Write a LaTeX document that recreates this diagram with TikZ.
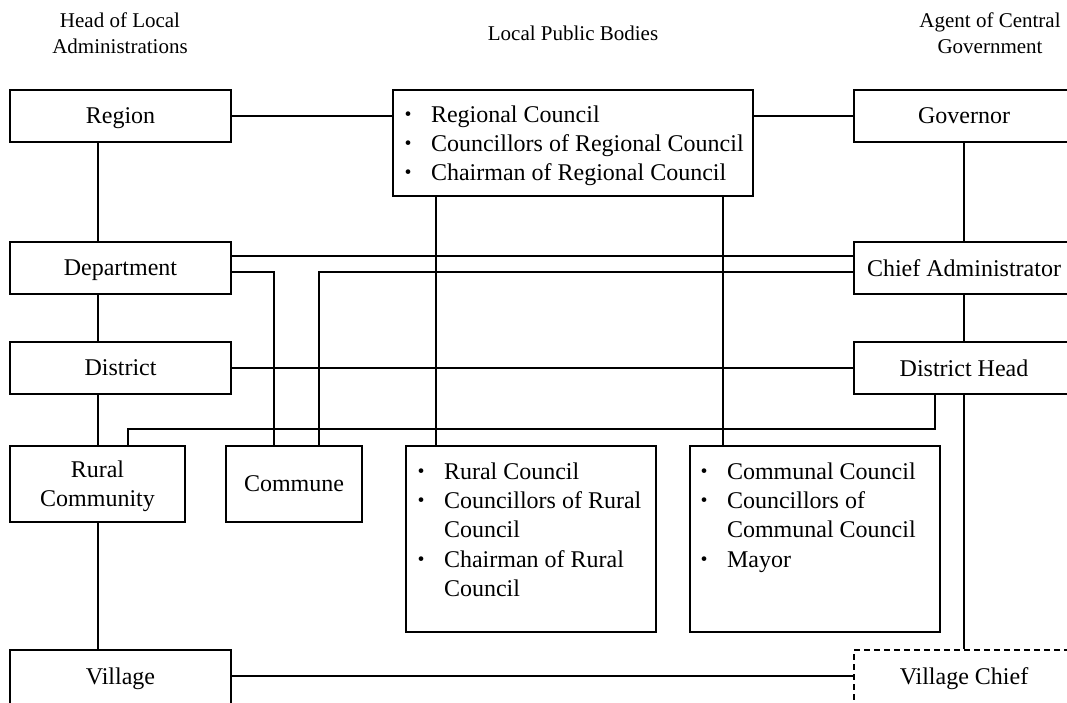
\documentclass[tikz,border=0pt]{standalone}
\usepackage{fontspec}
\setmainfont{Liberation Serif}
\newfontfamily\cjk{Noto Sans CJK JP}
\newcommand{\bodyfont}{\fontsize{24}{29}\selectfont}
\newcommand{\headfont}{\fontsize{21}{26}\selectfont}
\begin{document}
\begin{tikzpicture}[x=1pt,y=-1pt,
  line width=2pt,
  box/.style={draw, rectangle, inner sep=0pt, align=center, font=\bodyfont, text depth=0pt},
  dashedbox/.style={box, dash pattern=on 6pt off 4pt},
  head/.style={align=center, inner sep=0pt, font=\headfont},
  itm/.style={anchor=base west, inner sep=0pt, font=\bodyfont},
  dot/.style={anchor=base, inner sep=0pt, font=\cjk\fontsize{22}{29}\selectfont},
  link/.style={line width=2pt}]
\useasboundingbox (0,0) rectangle (1067,702);
\clip (0,0) rectangle (1067,702);

% column headings
\node[head] (hleft)  at (120,33) {Head of Local\\Administrations};
\node[head] (hmid)   at (573,33) {Local Public Bodies};
\node[head] (hright) at (990,33) {Agent of Central\\Government};

% left column: heads of local administrations
\node[box, minimum width=221pt, minimum height=52pt] (region)     at (120.5,116) {Region};
\node[box, minimum width=221pt, minimum height=52pt] (department) at (120.5,268) {Department};
\node[box, minimum width=221pt, minimum height=52pt] (district)   at (120.5,368) {District};
\node[box, minimum width=175pt, minimum height=76pt] (rural)      at (97.5,484) {Rural\\Community};
\node[box, minimum width=136pt, minimum height=76pt] (commune)    at (294,484) {Commune};
\node[box, minimum width=221pt, minimum height=56pt, text depth=4pt] (village) at (120.5,678) {Village};

% right column: agents of central government
\node[box, minimum width=220pt, minimum height=52pt] (governor) at (964,116) {Governor};
\node[box, minimum width=220pt, minimum height=52pt] (chief)    at (964,268) {Chief Administrator};
\node[box, minimum width=220pt, minimum height=52pt] (dhead)    at (964,368) {District Head};
\node[dashedbox, minimum width=220pt, minimum height=56pt, text depth=4pt] (vchief) at (964,678) {Village Chief};

% local public bodies
\node[box, minimum width=360pt, minimum height=106pt] (regional) at (573,143) {};
\node[dot] (rg1d) at (408,122) {・};
\node[itm] (rg1) at (430,122) {Regional Council};
\node[dot] (rg2d) at (408,151) {・};
\node[itm] (rg2) at (430,151) {Councillors of Regional Council};
\node[dot] (rg3d) at (408,180) {・};
\node[itm] (rg3) at (430,180) {Chairman of Regional Council};

\node[box, minimum width=250pt, minimum height=186pt] (ruralc) at (531,539) {};
\node[dot] (ru1d) at (421,479) {・};
\node[itm] (ru1) at (443,479) {Rural Council};
\node[dot] (ru2d) at (421,508) {・};
\node[itm] (ru2) at (443,508) {Councillors of Rural};
\node[itm] (ru3) at (443,537) {Council};
\node[dot] (ru4d) at (421,567) {・};
\node[itm] (ru4) at (443,567) {Chairman of Rural};
\node[itm] (ru5) at (443,596) {Council};

\node[box, minimum width=250pt, minimum height=186pt] (communal) at (815,539) {};
\node[dot] (cm1d) at (704,479) {・};
\node[itm] (cm1) at (726,479) {Communal Council};
\node[dot] (cm2d) at (704,508) {・};
\node[itm] (cm2) at (726,508) {Councillors of};
\node[itm] (cm3) at (726,537) {Communal Council};
\node[dot] (cm4d) at (704,567) {・};
\node[itm] (cm4) at (726,567) {Mayor};

% spine of the left column
\coordinate (lx) at (98,0);

% horizontal links
\draw[link] (region.east) -- (region.east -| regional.west);
\draw[link] (governor.west) -- (governor.west -| regional.east);
\draw[link] ([yshift=12pt]department.east) -- ([yshift=12pt]department.east -| chief.west);
\draw[link] (district.east) -- (district.east -| dhead.west);
\draw[link] ([yshift=2pt]village.east) -- ([yshift=2pt]village.east -| vchief.west);

% vertical chains
\draw[link] (lx |- region.south) -- (lx |- department.north);
\draw[link] (lx |- department.south) -- (lx |- district.north);
\draw[link] (lx |- district.south) -- (lx |- rural.north);
\draw[link] (lx |- rural.south) -- (lx |- village.north);
\draw[link] (governor.south) -- (chief.north);
\draw[link] (chief.south) -- (dhead.north);
\draw[link] (dhead.south) -- (vchief.north);

% links to the commune
\draw[link] ([yshift=-4pt]department.east) -| ([xshift=-20pt]commune.north);
\draw[link] ([yshift=-4pt]chief.west) -| ([xshift=25pt]commune.north);

% district head to rural community
\draw[link] ([xshift=-29pt]dhead.south) -- ++(0,34) -| ([xshift=30.5pt]rural.north);

% regional council to the rural and communal councils
\draw[link] ([xshift=-137pt]regional.south) -- ([xshift=-137pt]regional.south |- ruralc.north);
\draw[link] ([xshift=150pt]regional.south) -- ([xshift=150pt]regional.south |- communal.north);
\end{tikzpicture}
\end{document}
